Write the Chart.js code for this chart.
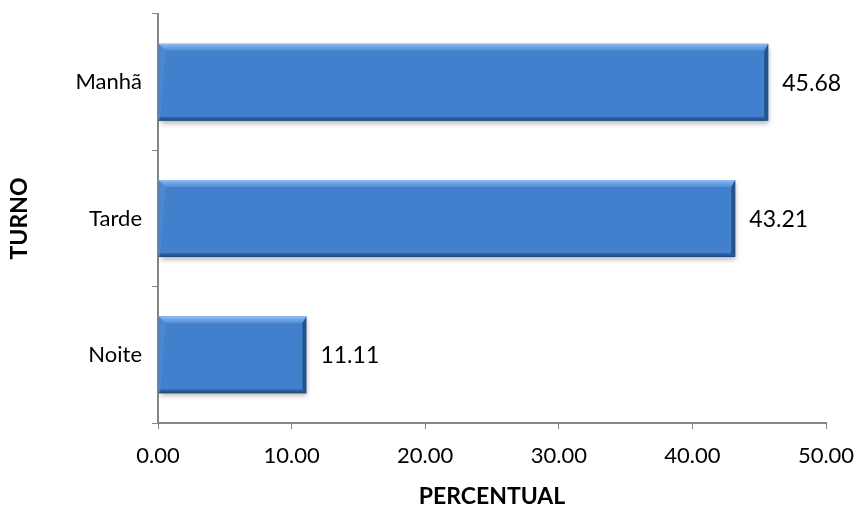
<!DOCTYPE html>
<html>
<head>
<meta charset="utf-8">
<script src="https://cdn.jsdelivr.net/npm/chart.js@4"></script>
<style>
  body { margin: 0; background: #fff; }
  #wrap { width: 861px; height: 510px; }
</style>
</head>
<body>
<div id="wrap"><canvas id="myChart" width="861" height="510"></canvas></div>
<script>
const turnos = ["Manhã", "Tarde", "Noite"];
const percentual = [45.68, 43.21, 11.11];
const xTicks = [0, 10, 20, 30, 40, 50];

const FONT = "Lato, 'Open Sans', sans-serif";
const AXIS_GRAY = "#868686";

// bevel + value labels drawn on top of the bars
const bevelPlugin = {
    id: "bevel",
    beforeDatasetsDraw(chart) {
        const ctx = chart.ctx;
        ctx.save();
        ctx.shadowColor = "rgba(0,0,0,0.3)";
        ctx.shadowBlur = 5;
        ctx.shadowOffsetX = 1;
        ctx.shadowOffsetY = 3;
    },
    afterDatasetsDraw(chart) {
        const ctx = chart.ctx;
        ctx.restore();
        const meta = chart.getDatasetMeta(0);
        meta.data.forEach(function (bar, i) {
            const l = bar.base, r = bar.x;
            const t = bar.y - bar.height / 2, b = bar.y + bar.height / 2;
            const s = 7, sr = 4, sb = 4;
            ctx.save();
            // top
            let g = ctx.createLinearGradient(0, t, 0, t + s);
            g.addColorStop(0, "rgba(150,195,245,0.95)");
            g.addColorStop(1, "rgba(100,155,225,0.5)");
            ctx.fillStyle = g;
            ctx.beginPath();
            ctx.moveTo(l, t); ctx.lineTo(r, t); ctx.lineTo(r - sr, t + s); ctx.lineTo(l + s, t + s);
            ctx.closePath(); ctx.fill();
            // left
            ctx.fillStyle = "rgba(100,150,215,0.35)";
            ctx.beginPath();
            ctx.moveTo(l, t); ctx.lineTo(l + s, t + s); ctx.lineTo(l + 2, b - sb); ctx.lineTo(l, b);
            ctx.closePath(); ctx.fill();
            // right
            ctx.fillStyle = "rgba(20,50,95,0.6)";
            ctx.beginPath();
            ctx.moveTo(r, t); ctx.lineTo(r, b); ctx.lineTo(r - sr, b - sb); ctx.lineTo(r - sr, t + s);
            ctx.closePath(); ctx.fill();
            // bottom
            g = ctx.createLinearGradient(0, b - sb, 0, b);
            g.addColorStop(0, "rgba(40,80,140,0.45)");
            g.addColorStop(1, "rgba(20,50,95,0.8)");
            ctx.fillStyle = g;
            ctx.beginPath();
            ctx.moveTo(l, b); ctx.lineTo(l + 2, b - sb); ctx.lineTo(r - sr, b - sb); ctx.lineTo(r, b);
            ctx.closePath(); ctx.fill();
            ctx.restore();

            // value label
            ctx.save();
            ctx.fillStyle = "#000";
            ctx.font = "23px " + FONT;
            ctx.textAlign = "left";
            ctx.textBaseline = "middle";
            ctx.fillText(percentual[i].toFixed(2), r + 14, bar.y + 1);
            ctx.restore();
        });
    }
};

window.onload = function () {
    const canvas = document.getElementById("myChart");
    const c = canvas.getContext("2d");
    const data = {
        type: "bar",
        data: {
            labels: turnos,
            datasets: [{
                data: percentual,
                backgroundColor: function (context) {
                    const area = context.chart.chartArea;
                    const el = context.element;
                    if (!area || !el) return "#4180cc";
                    const t = el.y - el.height / 2, b = el.y + el.height / 2;
                    if (!isFinite(t) || !isFinite(b) || t === b) return "#4180cc";
                    const g = c.createLinearGradient(0, t, 0, b);
                    g.addColorStop(0, "#4686d6");
                    g.addColorStop(0.5, "#3f7ccb");
                    g.addColorStop(1, "#376ab3");
                    return g;
                },
                borderWidth: 0,
                barPercentage: 0.565,
                categoryPercentage: 1.0
            }]
        },
        options: {
            indexAxis: "y",
            responsive: false,
            animation: false,
            layout: { padding: { top: 14, right: 35, left: 6, bottom: 0 } },
            plugins: {
                legend: { display: false },
                tooltip: { enabled: false }
            },
            scales: {
                x: {
                    min: 0,
                    max: 50,
                    afterBuildTicks: function (scale) {
                        scale.ticks = xTicks.map(function (v) { return { value: v }; });
                    },
                    afterFit: function (scale) {
                        scale.height = 87;
                        scale.paddingLeft = 0;
                        scale.paddingRight = 0;
                    },
                    grid: { drawOnChartArea: false, drawTicks: true, tickLength: 6, color: AXIS_GRAY },
                    border: { color: AXIS_GRAY, width: 2 },
                    ticks: {
                        color: "#000",
                        font: { family: FONT, size: 22 },
                        padding: 14,
                        callback: function (v) { return Number(v).toFixed(2); }
                    },
                    title: {
                        display: true,
                        text: "PERCENTUAL",
                        color: "#000",
                        font: { family: FONT, size: 23, weight: "bold" },
                        padding: { top: 4, bottom: 0 }
                    }
                },
                y: {
                    afterFit: function (scale) {
                        scale.width = 152;
                        scale.paddingTop = 0;
                        scale.paddingBottom = 0;
                    },
                    grid: { drawOnChartArea: false, drawTicks: true, tickLength: 6, color: AXIS_GRAY, offset: true },
                    border: { color: AXIS_GRAY, width: 2 },
                    ticks: {
                        color: "#000",
                        font: { family: FONT, size: 22 },
                        padding: 10
                    },
                    title: {
                        display: true,
                        text: "TURNO",
                        color: "#000",
                        font: { family: FONT, size: 23, weight: "bold" },
                        padding: { top: 0, bottom: 0 }
                    }
                }
            }
        },
        plugins: [bevelPlugin]
    };
    new Chart(canvas, data);
};
</script>
</body>
</html>
